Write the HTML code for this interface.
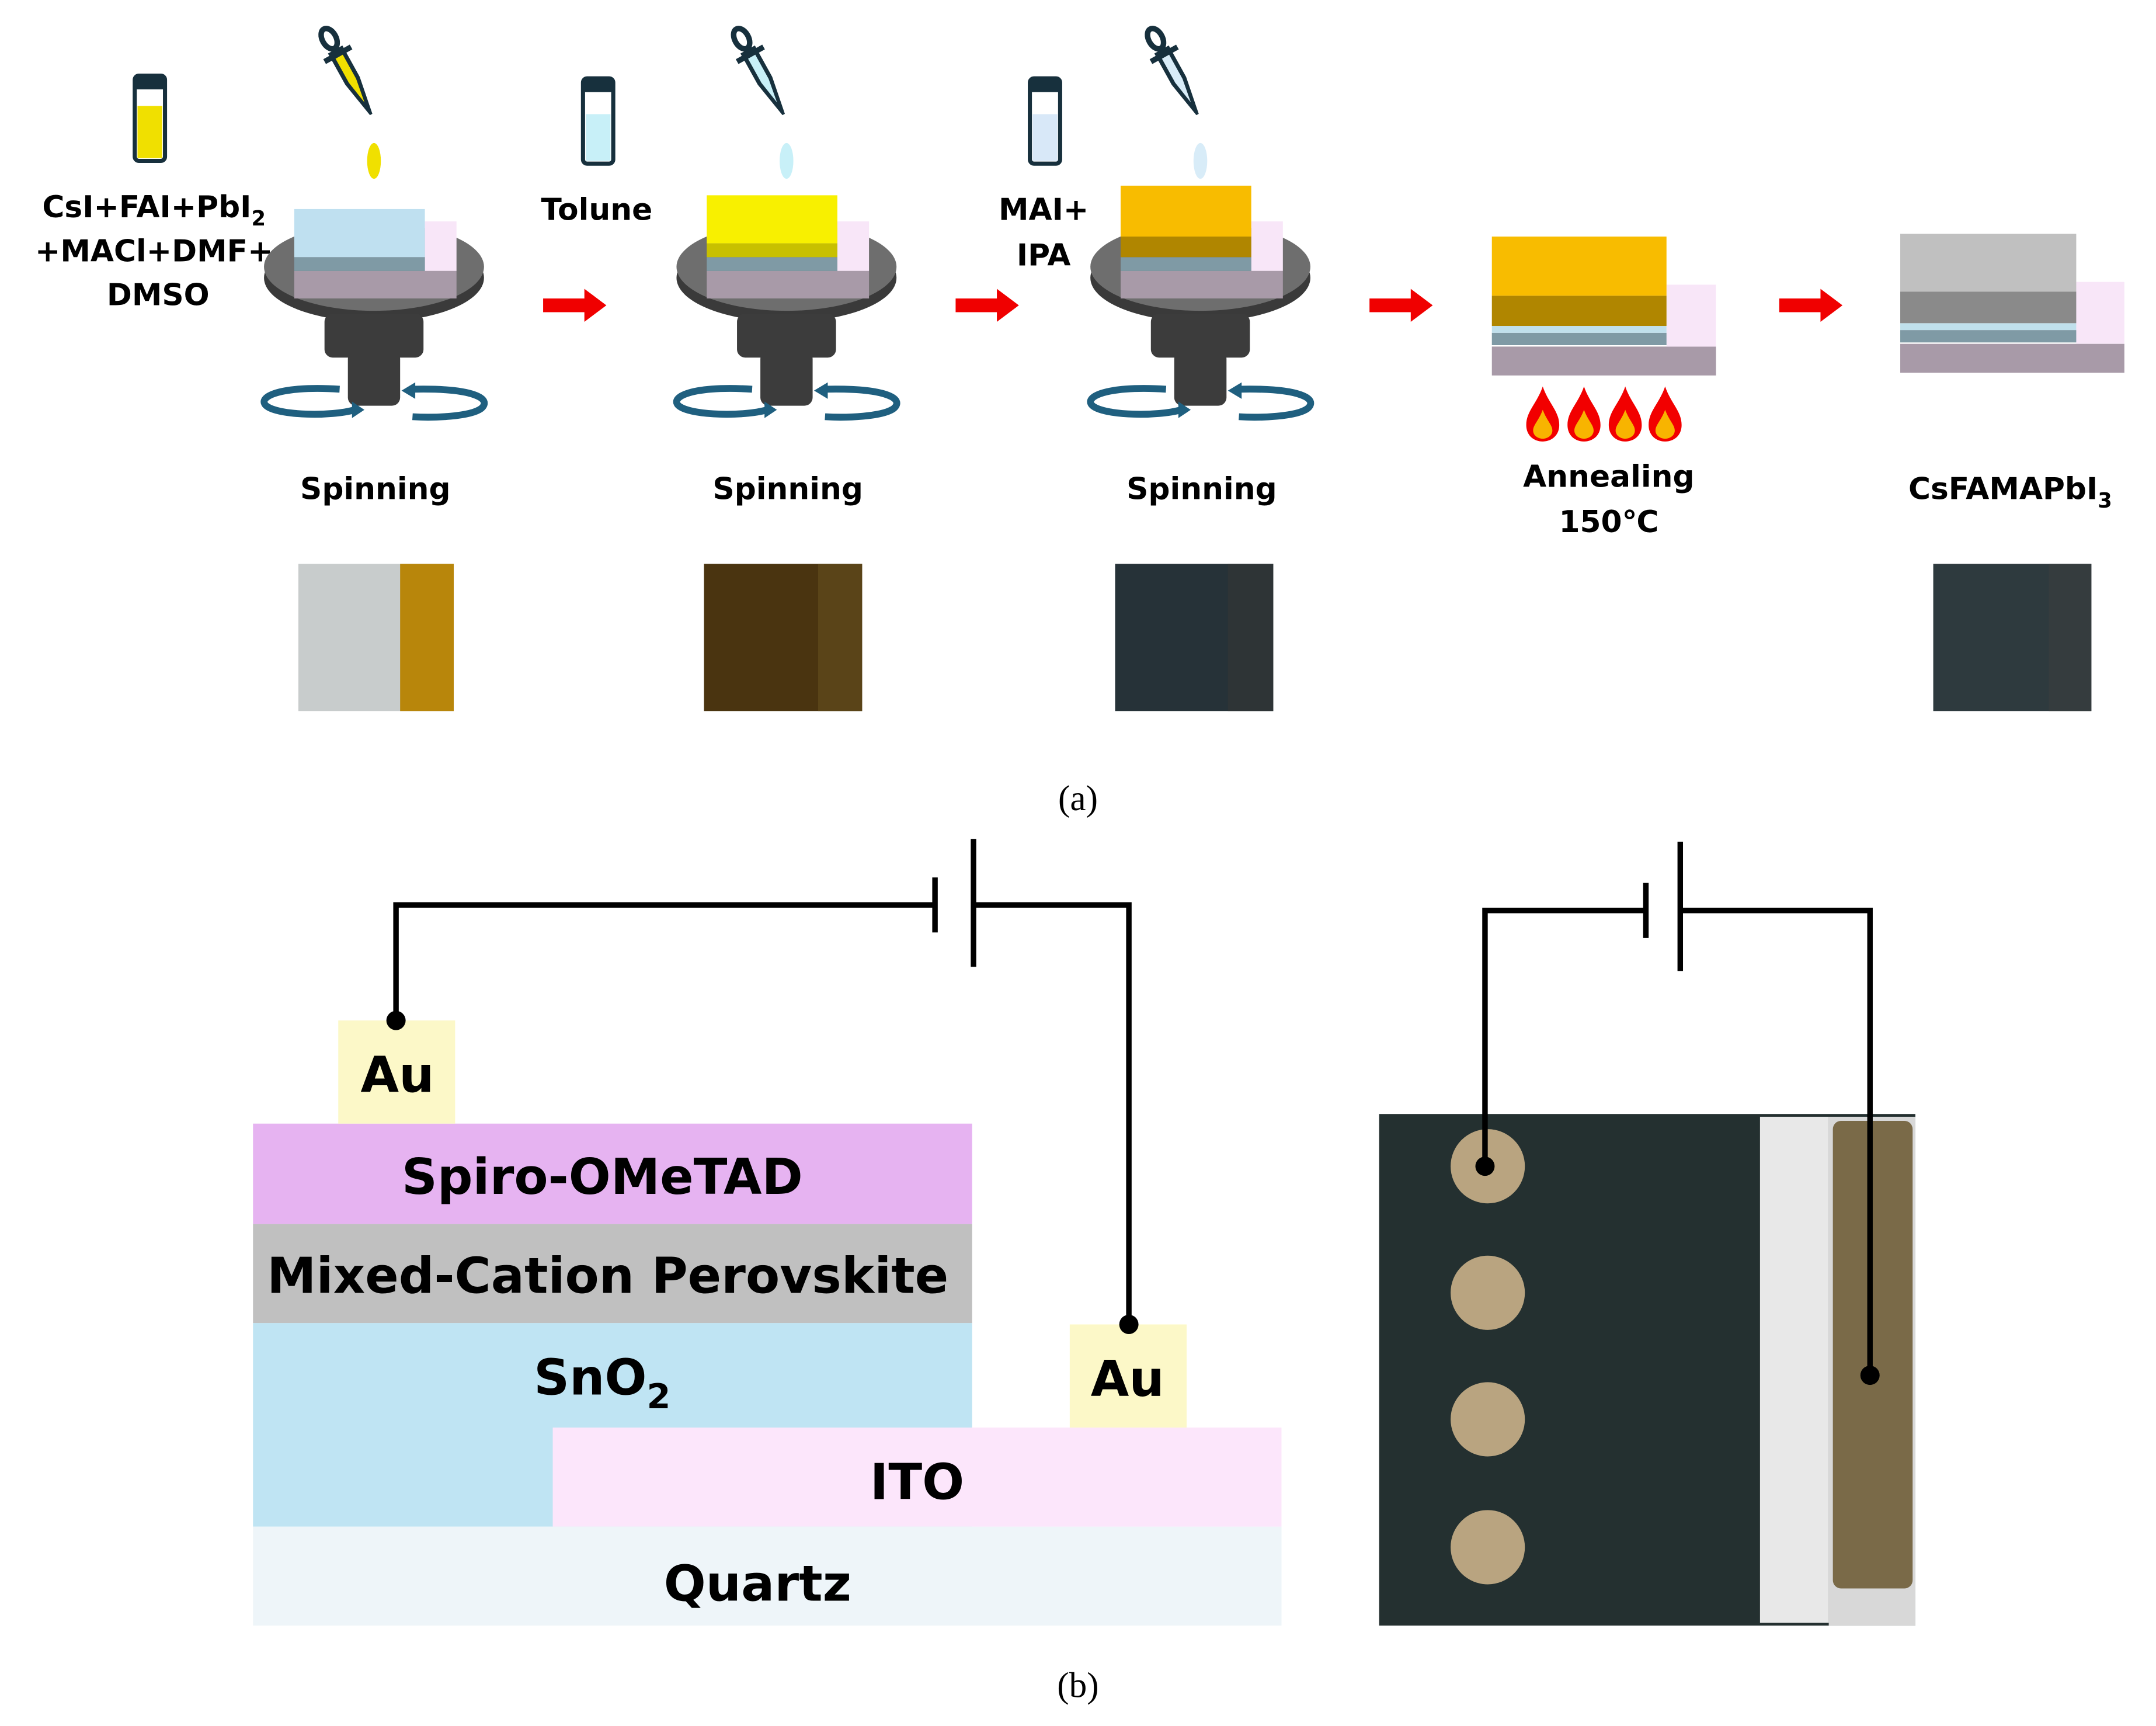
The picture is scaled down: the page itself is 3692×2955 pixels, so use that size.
<!DOCTYPE html>
<html><head><meta charset="utf-8"><style>
html,body{margin:0;padding:0;background:#fff}
svg{display:block}
.t{font-family:"DejaVu Sans","Liberation Sans",sans-serif;font-weight:bold;fill:#000}
.s{font-family:"Liberation Serif",serif;fill:#000}
</style></head><body>
<svg width="3692" height="2955" viewBox="0 0 1568 1255" xmlns="http://www.w3.org/2000/svg">
<defs>
<g id="coater">
  <ellipse cx="272" cy="202" rx="80" ry="32" fill="#3a3a3a"/>
  <ellipse cx="272" cy="194" rx="80" ry="32" fill="#6e6e6e"/>
  <rect x="236" y="228" width="72" height="32" rx="6" fill="#3c3c3c"/>
  <rect x="253" y="255" width="38" height="40" rx="6" fill="#3c3c3c"/>
  <path d="M247 283 C200 280 185 290 195 296 C205 302 240 303 258 298" fill="none" stroke="#1f5f7f" stroke-width="5"/>
  <polygon points="256,292 265,298 256,304" fill="#1f5f7f"/>
  <path d="M300 283 C345 282 358 290 350 297 C342 303 315 304 300 303" fill="none" stroke="#1f5f7f" stroke-width="5"/>
  <polygon points="302,278 292,284 302,290" fill="#1f5f7f"/>
  <rect x="214" y="197" width="118" height="20" fill="#a89aa8"/>
  <rect x="309" y="161" width="23" height="36" fill="#f8e6f8"/>
  <rect x="214" y="187" width="95" height="10" fill="#7f9aa5"/>
</g>
<g id="dropbase">
  <ellipse cx="0" cy="7" rx="5" ry="8" fill="none" stroke="#17303d" stroke-width="4"/>
  <line x1="-11" y1="20" x2="11" y2="20" stroke="#17303d" stroke-width="4"/>
  <path d="M-6 16 L6 16 L6 42 L1 70 L-1 70 L-6 42 Z" fill="#17303d"/>
</g>
<g id="vial">
  <rect x="0" y="0" width="22" height="62" rx="3" fill="#fff" stroke="#17303d" stroke-width="3"/>
  <rect x="0" y="0" width="22" height="10" fill="#17303d"/>
</g>
<g id="flame">
  <path d="M0 0 C4 12 12 18 12 28 C12 36 6 40 0 40 C-6 40 -12 36 -12 28 C-12 18 -4 12 0 0 Z" fill="#f20000"/>
  <path d="M0 17 C3 25 7 28 7 32 C7 36 3 38 0 38 C-3 38 -7 36 -7 32 C-7 28 -3 25 0 17 Z" fill="#f8b400"/>
</g>
<g id="arrow"><polygon points="0,-5 30,-5 30,-12 46,0 30,12 30,5 0,5" fill="#f00000"/></g>
</defs>

<!-- step 1 -->
<g transform="translate(98,55)"><use href="#vial"/><rect x="2" y="22" width="18" height="38" fill="#f0e000"/></g>
<text class="t" font-size="22" text-anchor="middle" x="112" y="158">CsI+FAI+PbI<tspan font-size="15" dy="6">2</tspan></text>
<text class="t" font-size="22" text-anchor="middle" x="112" y="190">+MACl+DMF+</text>
<text class="t" font-size="22" text-anchor="middle" x="115" y="222">DMSO</text>
<use href="#coater"/>
<rect x="214" y="152" width="95" height="35" fill="#bfe0f0"/>
<g transform="translate(236,22) rotate(-29)"><use href="#dropbase"/><path d="M-3 22 L3 22 L3 42 L0 60 L-3 42 Z" fill="#f0e000"/></g>
<ellipse cx="272" cy="117" rx="5" ry="13" fill="#f0e000"/>
<text class="t" font-size="22" text-anchor="middle" x="273" y="363">Spinning</text>
<rect x="217" y="410" width="113" height="107" fill="#c8cccc"/>
<rect x="291" y="410" width="39" height="107" fill="#b8860b"/>

<use href="#arrow" transform="translate(395,222)"/>

<!-- step 2 -->
<g transform="translate(424,57)"><use href="#vial"/><rect x="2" y="26" width="18" height="34" fill="#c8f0f8"/></g>
<text class="t" font-size="22" text-anchor="middle" x="434" y="160">Tolune</text>
<g transform="translate(300,0)"><use href="#coater"/>
<rect x="214" y="177" width="95" height="10" fill="#c8c000"/>
<rect x="214" y="142" width="95" height="35" fill="#f8f000"/>
<g transform="translate(236,22) rotate(-29)"><use href="#dropbase"/><path d="M-3 22 L3 22 L3 42 L0 60 L-3 42 Z" fill="#c8f0f8"/></g>
<ellipse cx="272" cy="117" rx="5" ry="13" fill="#c8f0f8"/></g>
<text class="t" font-size="22" text-anchor="middle" x="573" y="363">Spinning</text>
<rect x="512" y="410" width="115" height="107" fill="#4a3410"/>
<rect x="595" y="410" width="32" height="107" fill="#5a4418"/>

<use href="#arrow" transform="translate(695,222)"/>

<!-- step 3 -->
<g transform="translate(749,57)"><use href="#vial"/><rect x="2" y="26" width="18" height="34" fill="#d8e8f8"/></g>
<text class="t" font-size="22" text-anchor="middle" x="759" y="160">MAI+</text>
<text class="t" font-size="22" text-anchor="middle" x="759" y="193">IPA</text>
<g transform="translate(601,0)"><use href="#coater"/>
<rect x="214" y="172" width="95" height="15" fill="#b08600"/>
<rect x="214" y="135" width="95" height="37" fill="#f8bc00"/>
<g transform="translate(236,22) rotate(-29)"><use href="#dropbase"/><path d="M-3 22 L3 22 L3 42 L0 60 L-3 42 Z" fill="#d8ecf8"/></g>
<ellipse cx="272" cy="117" rx="5" ry="13" fill="#d8ecf8"/></g>
<text class="t" font-size="22" text-anchor="middle" x="874" y="363">Spinning</text>
<rect x="811" y="410" width="115" height="107" fill="#263238"/>
<rect x="893" y="410" width="33" height="107" fill="#2e3436"/>

<use href="#arrow" transform="translate(996,222)"/>

<!-- annealing -->
<rect x="1085" y="252" width="163" height="21" fill="#a89aa8"/>
<rect x="1212" y="207" width="36" height="45" fill="#f8e6f8"/>
<rect x="1085" y="242" width="127" height="9" fill="#7f9aa5"/>
<rect x="1085" y="237" width="127" height="5" fill="#c0e0ec"/>
<rect x="1085" y="215" width="127" height="22" fill="#b08600"/>
<rect x="1085" y="172" width="127" height="43" fill="#f8bc00"/>
<use href="#flame" transform="translate(1122,281)"/>
<use href="#flame" transform="translate(1152,281)"/>
<use href="#flame" transform="translate(1182,281)"/>
<use href="#flame" transform="translate(1211,281)"/>
<text class="t" font-size="22" text-anchor="middle" x="1170" y="354">Annealing</text>
<text class="t" font-size="22" text-anchor="middle" x="1170" y="387">150℃</text>

<use href="#arrow" transform="translate(1294,222)"/>

<!-- final -->
<rect x="1382" y="250" width="163" height="21" fill="#a89aa8"/>
<rect x="1510" y="205" width="35" height="45" fill="#f8e6f8"/>
<rect x="1382" y="240" width="128" height="9" fill="#7f9aa5"/>
<rect x="1382" y="235" width="128" height="5" fill="#c0e0ec"/>
<rect x="1382" y="212" width="128" height="23" fill="#8a8a8a"/>
<rect x="1382" y="170" width="128" height="42" fill="#c0c0c0"/>
<text class="t" font-size="22" text-anchor="middle" x="1462" y="363">CsFAMAPbI<tspan font-size="15" dy="6">3</tspan></text>
<rect x="1406" y="410" width="115" height="107" fill="#2e3a3e"/>
<rect x="1490" y="410" width="31" height="107" fill="#353c3e"/>

<text class="s" font-size="26" text-anchor="middle" x="784" y="589">(a)</text>

<!-- (b) layers -->
<rect x="184" y="1110" width="748" height="72" fill="#eef5f9"/>
<rect x="184" y="962" width="523" height="148" fill="#bfe4f3"/>
<rect x="402" y="1038" width="530" height="72" fill="#fce6fb"/>
<rect x="184" y="890" width="523" height="72" fill="#c0c0c0"/>
<rect x="184" y="817" width="523" height="73" fill="#e6b3f1"/>
<rect x="246" y="742" width="85" height="75" fill="#fcf8c8"/>
<rect x="778" y="963" width="85" height="75" fill="#fcf8c8"/>
<text class="t" font-size="36" text-anchor="middle" x="289" y="794">Au</text>
<text class="t" font-size="36" text-anchor="middle" x="820" y="1015">Au</text>
<text class="t" font-size="36" text-anchor="middle" x="438" y="868">Spiro-OMeTAD</text>
<text class="t" font-size="36" text-anchor="middle" x="442" y="940">Mixed-Cation Perovskite</text>
<text class="t" font-size="36" text-anchor="middle" x="438" y="1014">SnO<tspan font-size="25" dy="10">2</tspan></text>
<text class="t" font-size="36" text-anchor="middle" x="667" y="1090">ITO</text>
<text class="t" font-size="36" text-anchor="middle" x="551" y="1164">Quartz</text>

<g fill="none" stroke="#000" stroke-width="4">
<polyline points="288,742 288,658 680,658"/>
<line x1="680" y1="638" x2="680" y2="678"/>
<line x1="708" y1="610" x2="708" y2="703"/>
<polyline points="708,658 821,658 821,963"/>
</g>
<circle cx="288" cy="742" r="7" fill="#000"/>
<circle cx="821" cy="963" r="7" fill="#000"/>

<!-- photo -->
<rect x="1003" y="810" width="390" height="372" fill="#243030"/>
<rect x="1280" y="812" width="50" height="368" fill="#e8e8e8"/>
<rect x="1330" y="812" width="63" height="370" fill="#d8d8d8"/>
<rect x="1333" y="815" width="58" height="340" rx="6" fill="#7a6a48"/>
<circle cx="1082" cy="848" r="27" fill="#b9a480"/>
<circle cx="1082" cy="940" r="27" fill="#b9a480"/>
<circle cx="1082" cy="1032" r="27" fill="#b9a480"/>
<circle cx="1082" cy="1125" r="27" fill="#b9a480"/>
<g fill="none" stroke="#000" stroke-width="4">
<polyline points="1080,848 1080,662 1197,662"/>
<line x1="1197" y1="642" x2="1197" y2="682"/>
<line x1="1222" y1="612" x2="1222" y2="706"/>
<polyline points="1222,662 1360,662 1360,1000"/>
</g>
<circle cx="1080" cy="848" r="7" fill="#000"/>
<circle cx="1360" cy="1000" r="7" fill="#000"/>

<text class="s" font-size="26" text-anchor="middle" x="784" y="1234">(b)</text>
</svg>
</body></html>
